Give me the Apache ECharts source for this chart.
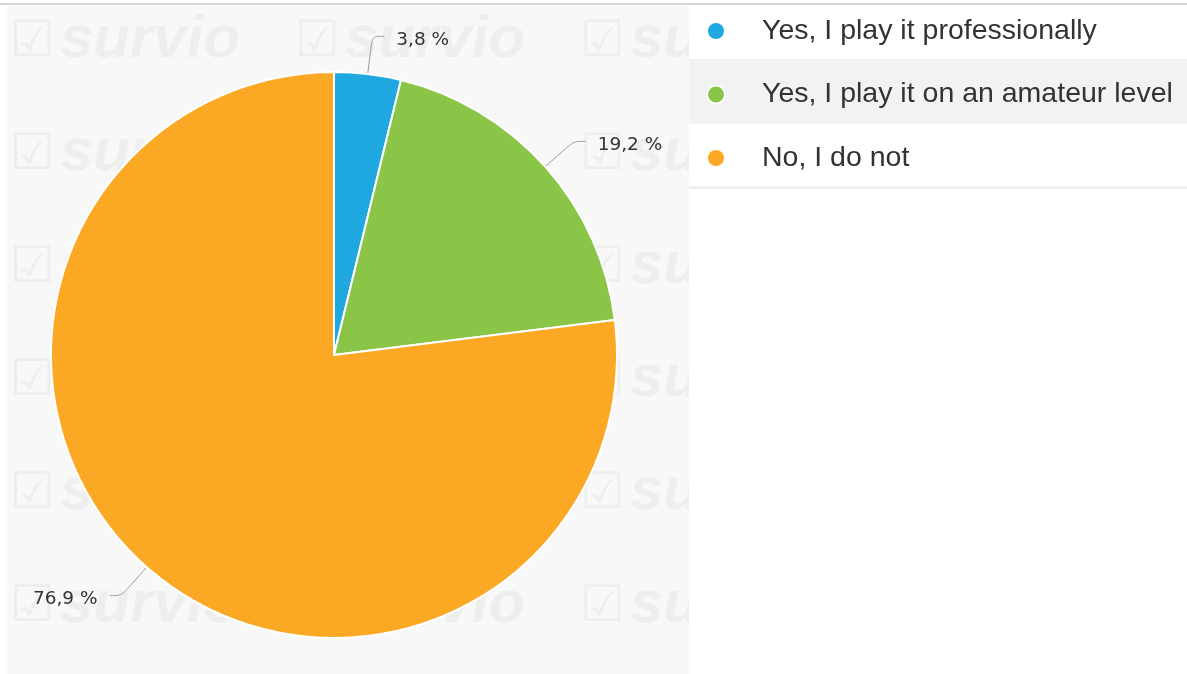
<!DOCTYPE html>
<html>
<head>
<meta charset="utf-8">
<script src="https://cdn.jsdelivr.net/npm/echarts@6/dist/echarts.min.js"></script>
<style>
html,body{margin:0;padding:0;background:#ffffff;}
#chart{width:1187px;height:674px;}
</style>
</head>
<body>
<div id="chart"></div>
<script>
const categories = ["Yes, I play it professionally", "Yes, I play it on an amateur level", "No, I do not"];
const values = [3.8, 19.2, 76.9];
const colors = ["#1fa8e0", "#8bc548", "#fba824"];

const chart = echarts.init(document.getElementById('chart'));

const wm = [];
const rowsY = [18, 131, 244, 357, 470, 583];
const colsX = [10, 295, 580];
rowsY.forEach(y => colsX.forEach(x => {
  wm.push({type:'text', x: x, y: y, silent:true, z:-5,
    style:{text:'☑', fill:'#eeeeee', font:'bold 50px "DejaVu Sans"'}});
  wm.push({type:'text', x: x + 50, y: y - 8, silent:true, z:-5,
    style:{text:'survio', fill:'#eeeeee', font:'italic bold 60px "Liberation Sans"'}});
}));

const option = {
  backgroundColor: '#ffffff',
  animation: false,
  color: colors,
  graphic: [
    {type:'rect', shape:{x:0,y:3,width:1187,height:2}, style:{fill:'#d6d6d6'}, z:-10, silent:true},
    {type:'rect', shape:{x:7,y:5,width:682,height:669}, style:{fill:'#f8f8f8'}, z:-10, silent:true},
    {type:'group', clipPath:{type:'rect', shape:{x:7,y:5,width:682,height:669}}, children: wm, z:-5, silent:true},
    {type:'rect', shape:{x:689,y:59,width:498,height:65}, style:{fill:'#f2f2f2'}, z:-10, silent:true},
    {type:'rect', shape:{x:689,y:186,width:498,height:3}, style:{fill:'#f0f0f0'}, z:-10, silent:true}
  ],
  legend: {
    orient: 'vertical',
    left: 701,
    top: 6,
    icon: 'circle',
    itemWidth: 82,
    itemHeight: 18,
    itemGap: 23.5,
    selectedMode: false,
    textStyle: {fontFamily: 'Liberation Sans', fontSize: 28.5, color: '#333333', lineHeight: 40},
    data: categories
  },
  series: [{
    type: 'pie',
    center: [334, 355],
    radius: [0, 283],
    startAngle: 90,
    clockwise: true,
    avoidLabelOverlap: false,
    emphasis: {scale: false},
    itemStyle: {borderColor: '#ffffff', borderWidth: 2},
    label: {
      show: true,
      position: 'outside',
      fontFamily: 'DejaVu Sans',
      fontSize: 18.5,
      color: '#333333',
      offset: [0, 4],
      distanceToLabelLine: 12,
      formatter: p => p.value.toFixed(1).replace('.', ',') + ' %'
    },
    labelLine: {
      show: true,
      length: 38,
      length2: 12,
      smooth: 0.3,
      lineStyle: {color: '#9a9a9a', width: 1}
    },
    data: categories.map((c, i) => ({name: c, value: values[i]}))
  }]
};
chart.setOption(option);
</script>
</body>
</html>
